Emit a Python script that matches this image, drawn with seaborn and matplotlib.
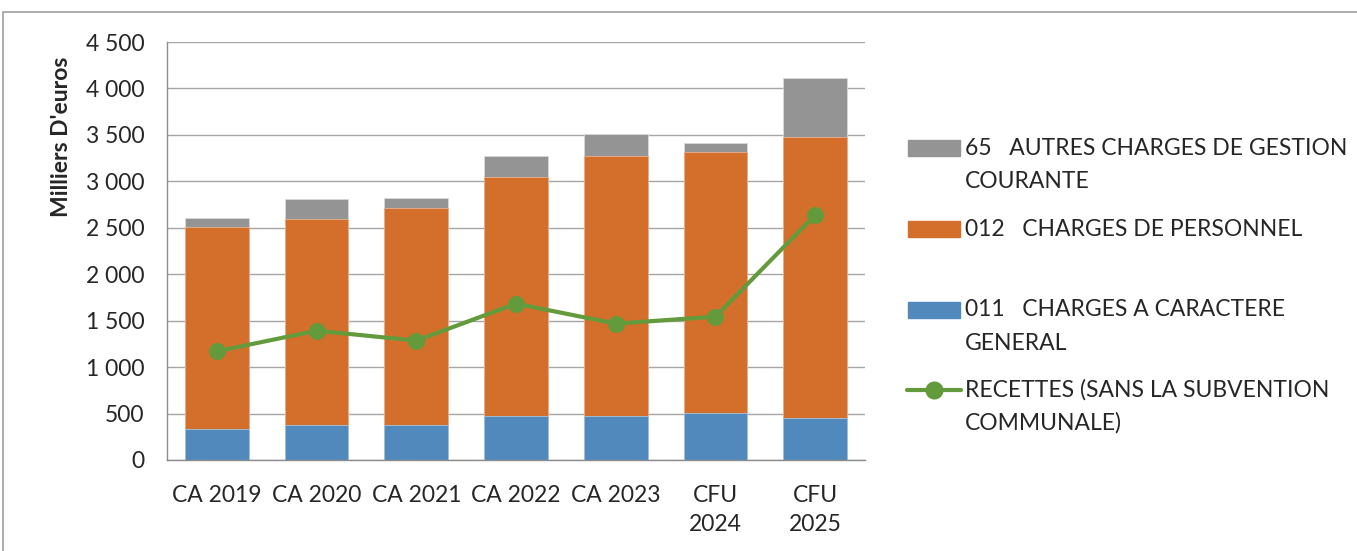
import numpy as np
import pandas as pd
import seaborn as sns
import matplotlib.pyplot as plt
from matplotlib.patches import Rectangle
from matplotlib.lines import Line2D
from matplotlib.ticker import FuncFormatter

# values (milliers d'euros)
categories = ["CA 2019", "CA 2020", "CA 2021", "CA 2022", "CA 2023", "CFU\n2024", "CFU\n2025"]
charges_011 = [337, 377, 377, 470, 477, 502, 456]
charges_012 = [2167, 2214, 2332, 2580, 2792, 2810, 3017]
charges_65 = [101, 219, 111, 222, 240, 104, 635]
recettes = [1170, 1392, 1285, 1683, 1468, 1543, 2637]

labels = [["65   AUTRES CHARGES DE GESTION", "COURANTE"],
          ["012   CHARGES DE PERSONNEL"],
          ["011   CHARGES A CARACTERE", "GENERAL"],
          ["RECETTES (SANS LA SUBVENTION", "COMMUNALE)"]]

c_blue, c_orange, c_grey, c_green = "#5189BD", "#D36F2B", "#949494", "#639A3B"

df = pd.DataFrame({"cat": categories, "b": charges_011, "o": charges_012,
                   "g": charges_65, "r": recettes})
df["bo"] = df["b"] + df["o"]
df["tot"] = df["bo"] + df["g"]

sns.set_style("white")
plt.rcParams["font.family"] = ["Lato", "DejaVu Sans"]
FS = 16.5

W, H = 1357, 551
fig = plt.figure(figsize=(W / 100, H / 100), dpi=100)
ax = fig.add_axes([167 / W, 1 - 460 / H, 698 / W, 418 / H])

# stacked bars drawn as cumulative totals, back to front
sns.barplot(data=df, x="cat", y="tot", color=c_grey, width=0.64, saturation=1,
            edgecolor="#d9d9d9", linewidth=0.6, ax=ax, zorder=2)
sns.barplot(data=df, x="cat", y="bo", color=c_orange, width=0.64, saturation=1,
            edgecolor="#e8b090", linewidth=0.6, ax=ax, zorder=2)
sns.barplot(data=df, x="cat", y="b", color=c_blue, width=0.64, saturation=1,
            edgecolor="#a8c4de", linewidth=0.6, ax=ax, zorder=2)
sns.pointplot(data=df, x="cat", y="r", color=c_green, markers="o", markersize=10,
              linewidth=3, ax=ax, zorder=4)

ax.set_ylim(0, 4500)
ax.set_yticks(np.arange(0, 4501, 500))
ax.yaxis.set_major_formatter(FuncFormatter(lambda v, p: f"{int(v):,}".replace(",", " ")))
ax.set_xlim(-0.5, 6.5)
ax.grid(axis="y", color="#a6a6a6", linewidth=1, zorder=0)
ax.set_axisbelow(True)
for s in ["top", "right"]:
    ax.spines[s].set_visible(False)
for s in ["left", "bottom"]:
    ax.spines[s].set_color("#8c8c8c")
    ax.spines[s].set_linewidth(1)
ax.tick_params(axis="y", length=0, labelsize=FS, pad=16)
ax.tick_params(axis="x", length=0, labelsize=FS, pad=18)
for t in ax.get_xticklabels():
    t.set_linespacing(1.45)
ax.set_xlabel("")
ax.set_ylabel("Milliers D'euros", fontsize=FS, fontweight="bold")
ax.yaxis.set_label_coords((72 - 167) / 698, (460 - 137) / 418)

# legend drawn entry by entry (handles aligned with first text line, as in the reference)
rows = [148, 229, 310, 390]
for i, (y, lines) in enumerate(zip(rows, labels)):
    fy = 1 - y / H
    if i < 3:
        col = [c_grey, c_orange, c_blue][i]
        fig.patches.append(Rectangle((908 / W, 1 - (y + 8) / H), 52 / W, 16 / H,
                                     transform=fig.transFigure, color=col))
    else:
        fig.lines.append(Line2D([907 / W, 961 / W], [fy, fy], transform=fig.transFigure,
                                color=c_green, lw=3))
        fig.lines.append(Line2D([934 / W], [fy], transform=fig.transFigure,
                                color=c_green, marker="o", markersize=12, lw=0))
    for k, txt in enumerate(lines):
        fig.text(965 / W, 1 - (y + 33 * k) / H, txt, fontsize=FS, va="center", ha="left")

# outer chart frame
fig.patches.append(Rectangle((3 / W, -0.01), 1.2, 1 - 12 / H + 0.01, transform=fig.transFigure,
                             fill=False, edgecolor="#a0a0a0", linewidth=1.2))

fig.savefig("out.png", dpi=100)
